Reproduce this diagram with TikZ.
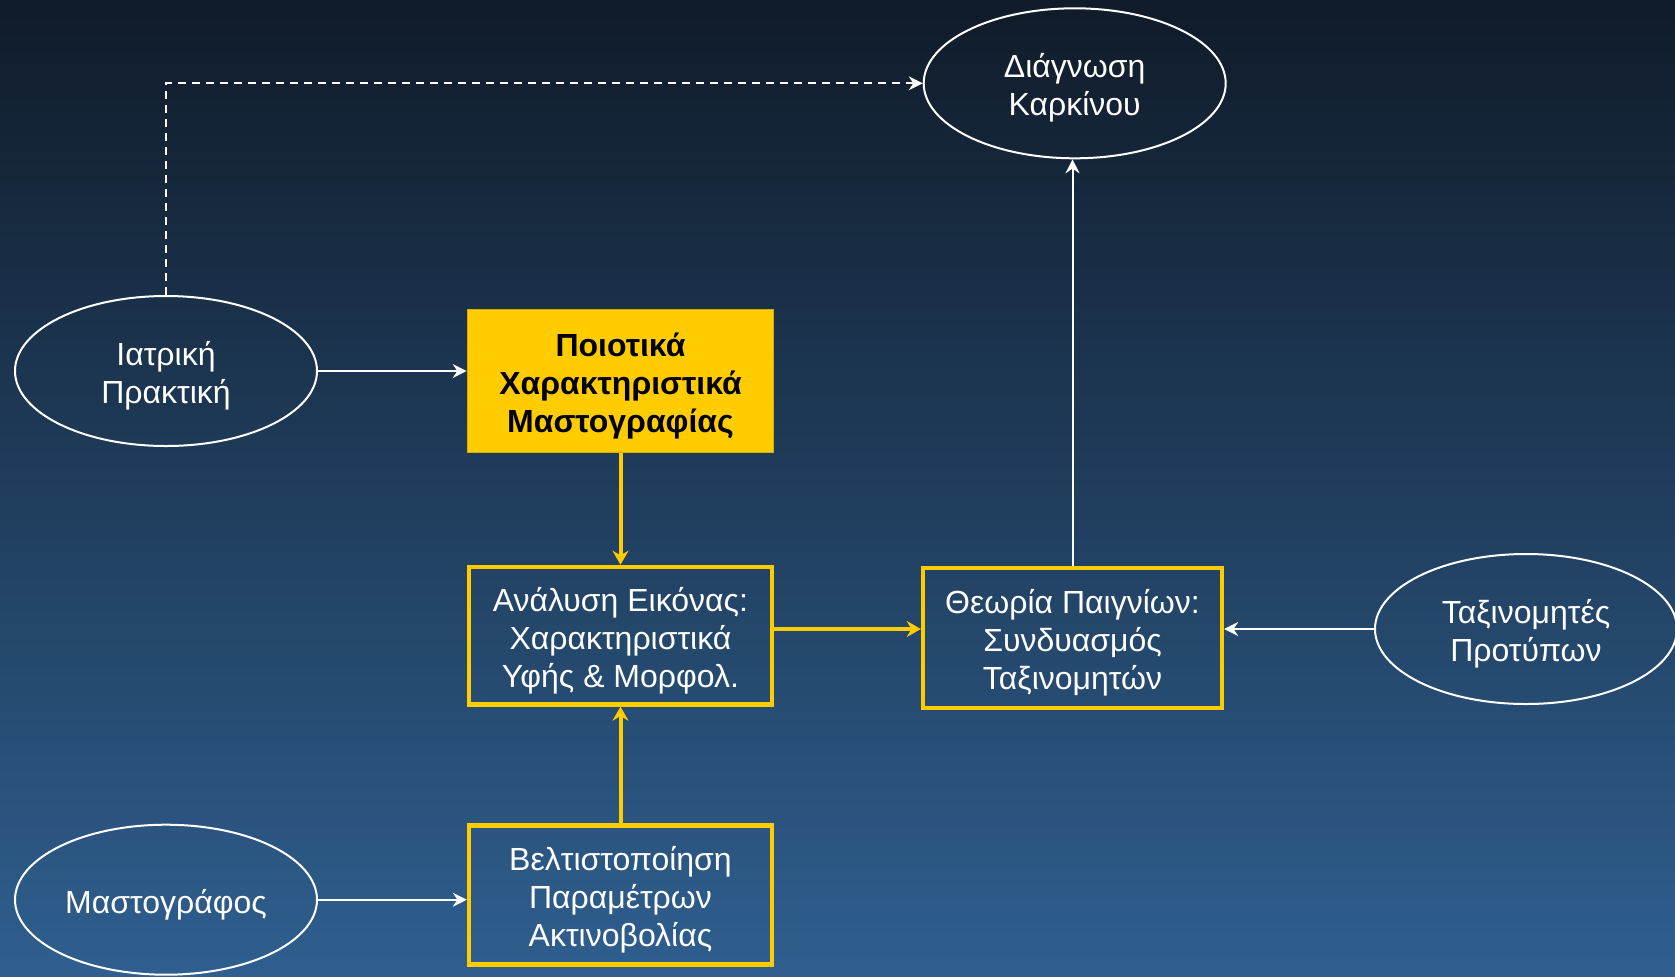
\documentclass[tikz,border=0pt]{standalone}
\usepackage{fontspec}
\setmainfont{Liberation Sans}
\usetikzlibrary{shapes.geometric,arrows.meta}
\definecolor{bgtop}{HTML}{101B29}
\definecolor{bgbot}{HTML}{2F5F8F}
\definecolor{gold}{HTML}{FFCC00}
\definecolor{golddark}{HTML}{D9AD00}
\newcommand\lowstrut{\rule{0pt}{25pt}}
\tikzset{
  txt/.style={font=\fontsize{24pt}{28.5pt}\selectfont, align=center, text=white},
  oval/.style={txt, ellipse, draw=white, line width=1.5pt, inner sep=0pt,
    minimum width=226.5pt, minimum height=112.5pt},
  goldbox/.style={txt, rectangle, draw=gold, line width=3.3pt, inner sep=0pt},
  keybox/.style={rectangle, fill=gold, draw=golddark, line width=0.75pt, inner sep=0pt,
    font=\bfseries\fontsize{24pt}{28.5pt}\selectfont, align=center, text=black,
    minimum width=230pt, minimum height=107.5pt},
  warrow/.style={draw=white, line width=1.5pt, -{Stealth[length=10.5pt,width=10.5pt,inset=3.5pt]}},
  dasharrow/.style={warrow, dash pattern=on 6pt off 4.5pt},
  garrow/.style={draw=gold, line width=3pt, -{Stealth[length=10.5pt,width=12pt,inset=3.5pt]}},
}
\begin{document}
\begin{tikzpicture}[x=0.75pt, y=-0.75pt]
\shade[top color=bgtop, bottom color=bgbot] (0,0) rectangle (1675,976);
\useasboundingbox (0,0) rectangle (1675,976);

\node[oval] (diag) at (1074.7,83.3) {\lowstrut Διάγνωση\\Καρκίνου};
\node[oval] (iat) at (166,371) {\lowstrut Ιατρική\\Πρακτική};
\node[oval] (mast) at (166,899.7) {\lowstrut Μαστογράφος};
\node[oval] (tax) at (1526,629) {\lowstrut Ταξινομητές\\Προτύπων};

\node[keybox] (ptk) at (620.5,381) {\lowstrut Ποιοτικά\\Χαρακτηριστικά\\Μαστογραφίας};
\node[goldbox, minimum width=227.25pt, minimum height=103.2pt] (ana) at (620.5,635.7)
  {\lowstrut Ανάλυση Εικόνας:\\Χαρακτηριστικά\\Υφής \& Μορφολ.};
\node[goldbox, minimum width=224.25pt, minimum height=105pt] (theo) at (1072.5,637.7)
  {\lowstrut Θεωρία Παιγνίων:\\Συνδυασμός\\Ταξινομητών};
\node[goldbox, minimum width=227.25pt, minimum height=104pt] (vel) at (620.5,895)
  {\lowstrut Βελτιστοποίηση\\Παραμέτρων\\Ακτινοβολίας};

\draw[dasharrow] (iat.north) |- (diag.west);
\draw[warrow] (iat.east) -- (iat.east -| ptk.west);
\draw[warrow] (mast.east) -- (mast.east -| vel.west);
\draw[warrow] (tax.west) -- (tax.west -| theo.east);
\draw[warrow] (theo.north) -- (theo.north |- diag.south);
\draw[garrow] (ptk.south) -- (ana.north);
\draw[garrow] (vel.north) -- (ana.south);
\draw[garrow] (tax.west -| ana.east) -- (tax.west -| theo.west);
\end{tikzpicture}
\end{document}
